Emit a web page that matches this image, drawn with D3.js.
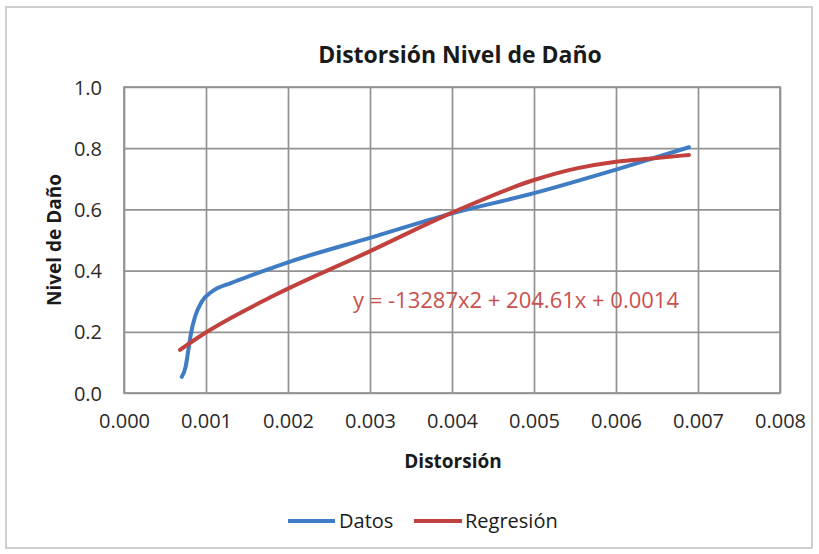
<!DOCTYPE html>
<html><head><meta charset="utf-8">
<script src="https://cdn.jsdelivr.net/npm/d3@7"></script>
<style>
html,body{margin:0;padding:0;background:#fff;}
text{font-family:"Open Sans","Noto Sans",sans-serif;}
</style></head>
<body><svg id="chart" width="819" height="554"></svg>
<script>
const title = "Distorsión Nivel de Daño";
const xTitle = "Distorsión";
const yTitle = "Nivel de Daño";
const equation = "y = -13287x2 + 204.61x + 0.0014";
const seriesNames = ["Datos", "Regresión"];
const xTicks = [0.000,0.001,0.002,0.003,0.004,0.005,0.006,0.007,0.008];
const yTicks = [0.0,0.2,0.4,0.6,0.8,1.0];

const datosX = [0.000704,0.000752,0.000785,0.000817,0.000866,0.000947,0.00107,0.00131,0.00156,0.0018,0.00199,0.0030,0.0040,0.0050,0.0060,0.00689];
const datosY = [0.053,0.086,0.141,0.195,0.249,0.298,0.331,0.360,0.385,0.408,0.426,0.507,0.587,0.653,0.730,0.803];
const regX = [0.000683,0.000988,0.00184,0.00299,0.00398,0.0050,0.00552,0.0060,0.00646,0.00689];
const regY = [0.141,0.196,0.320,0.462,0.587,0.696,0.734,0.756,0.767,0.778];

const colors = ["#3f7cc4", "#c0413e"];

const svg = d3.select("#chart");
const L = 124, R = 780, T = 87, B = 393;
const x = d3.scaleLinear().domain([0,0.008]).range([L,R]);
const y = d3.scaleLinear().domain([0,1]).range([B,T]);

// outer chart border
svg.append("rect").attr("x",6).attr("y",7).attr("width",806).attr("height",541)
  .attr("fill","#fff").attr("stroke","#cfcfcf").attr("stroke-width",2);

// gridlines + ticks
const gx = svg.append("g").attr("transform",`translate(0,${B})`)
  .call(d3.axisBottom(x).tickValues(xTicks).tickSize(-(B-T)).tickFormat(d3.format(".3f")).tickPadding(28));
const gy = svg.append("g").attr("transform",`translate(${L},0)`)
  .call(d3.axisLeft(y).tickValues(yTicks).tickSize(-(R-L)).tickFormat(d3.format(".1f")).tickPadding(22));
[gx,gy].forEach(g=>{
  g.select(".domain").remove();
  g.selectAll(".tick line").attr("stroke","#929292").attr("stroke-width",1.7);
  g.selectAll(".tick text").attr("fill","#2a2a2a").style("font-size","20px");
});
gx.selectAll(".tick text").attr("dy","0.35em");
gy.selectAll(".tick text").attr("dy","0.35em");

// plot border
svg.append("rect").attr("x",L).attr("y",T).attr("width",R-L).attr("height",B-T)
  .attr("fill","none").attr("stroke","#929292").attr("stroke-width",1.7);

const line = d3.line().x(d=>x(d[0])).y(d=>y(d[1])).curve(d3.curveMonotoneX);
const datos = datosX.map((v,i)=>[v,datosY[i]]);
const reg = regX.map((v,i)=>[v,regY[i]]);

svg.append("path").datum(datos).attr("d",line).attr("fill","none")
  .attr("stroke",colors[0]).attr("stroke-width",4).attr("stroke-linecap","round");
svg.append("path").datum(reg).attr("d",line).attr("fill","none")
  .attr("stroke",colors[1]).attr("stroke-width",4).attr("stroke-linecap","round");

// equation
svg.append("text").attr("x",353).attr("y",300).attr("dy","0.35em")
  .attr("fill","#c9504e").style("font-size","22px").text(equation);

// titles
svg.append("text").attr("x",460).attr("y",55).attr("dy","0.35em").attr("text-anchor","middle")
  .attr("fill","#1a1a1a").style("font-size","23px").style("font-weight","bold").text(title);
svg.append("text").attr("x",453).attr("y",461).attr("dy","0.35em").attr("text-anchor","middle")
  .attr("fill","#1a1a1a").style("font-size","19px").style("font-weight","bold").text(xTitle);
svg.append("text").attr("transform","translate(54,240) rotate(-90)").attr("dy","0.35em").attr("text-anchor","middle")
  .attr("fill","#1a1a1a").style("font-size","19px").style("font-weight","bold").text(yTitle);

// legend
const legPos = [[288,335,339],[414,462,465]];
seriesNames.forEach((n,i)=>{
  const p = legPos[i];
  svg.append("line").attr("x1",p[0]).attr("x2",p[1]).attr("y1",521).attr("y2",521)
    .attr("stroke",colors[i]).attr("stroke-width",4);
  svg.append("text").attr("x",p[2]).attr("y",521).attr("dy","0.35em")
    .attr("fill","#1a1a1a").style("font-size","20px").text(n);
});
</script></body></html>
